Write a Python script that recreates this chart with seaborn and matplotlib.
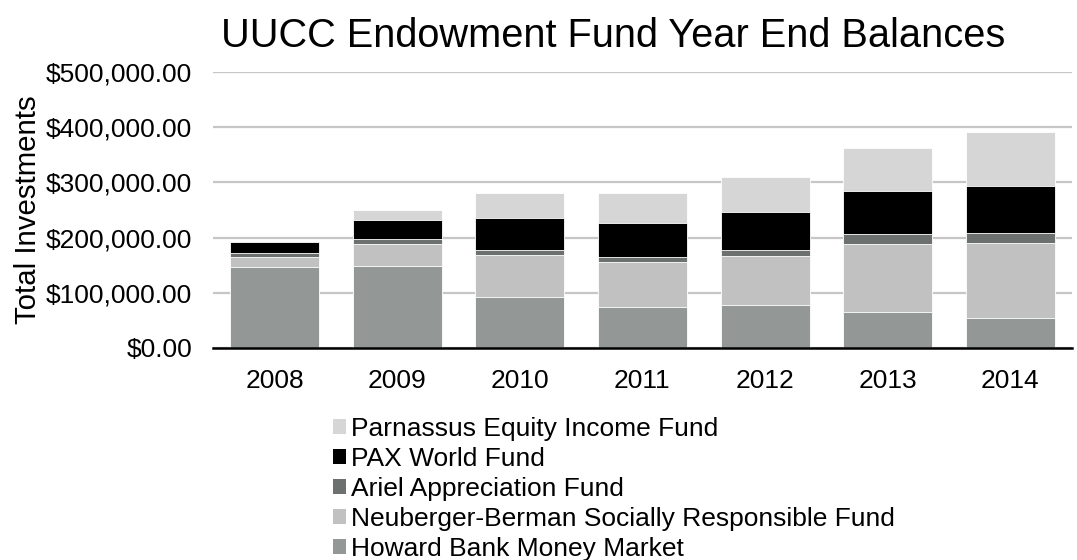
import matplotlib
matplotlib.use("Agg")
import matplotlib.pyplot as plt
import seaborn as sns
import pandas as pd
import numpy as np
from matplotlib.patches import Patch
from matplotlib.ticker import FuncFormatter

years = ["2008", "2009", "2010", "2011", "2012", "2013", "2014"]
howard = [145800, 147600, 91500, 74500, 78200, 65500, 54700]
neuberger = [19200, 41000, 76000, 81300, 89000, 122800, 135300]
ariel = [6800, 9000, 10300, 9000, 10200, 17500, 18700]
pax = [20200, 34400, 57800, 60800, 68100, 78200, 84800]
parnassus = [0, 18000, 45200, 56000, 64200, 78000, 97500]

funds = ["Howard Bank Money Market", "Neuberger-Berman Socially Responsible Fund",
         "Ariel Appreciation Fund", "PAX World Fund", "Parnassus Equity Income Fund"]
series = [howard, neuberger, ariel, pax, parnassus]
colors = {"Howard Bank Money Market": "#939896",
          "Neuberger-Berman Socially Responsible Fund": "#c1c1c1",
          "Ariel Appreciation Fund": "#6c706f",
          "PAX World Fund": "#000000",
          "Parnassus Equity Income Fund": "#d6d6d6"}

cum = np.cumsum(np.array(series, dtype=float), axis=0)
rows = []
for fi, f in enumerate(funds):
    for yi, y in enumerate(years):
        rows.append({"Year": y, "Fund": f, "cum": cum[fi, yi]})
df = pd.DataFrame(rows)

sns.set_theme(style="white")
plt.rcParams["font.family"] = ["Liberation Sans", "DejaVu Sans"]
plt.rcParams["text.color"] = "black"
plt.rcParams["axes.labelcolor"] = "black"

fig = plt.figure(figsize=(10.77, 5.6), dpi=100)
ax = fig.add_axes([0.198, 0.379, 0.797, 0.492])

hue_order = funds[::-1]
sns.barplot(data=df, x="Year", y="cum", hue="Fund", hue_order=hue_order,
            palette=colors, dodge=False, width=0.725, ax=ax,
            edgecolor="white", linewidth=0.6, legend=False, saturation=1)

ax.set_ylim(0, 500000)
ax.set_yticks([0, 100000, 200000, 300000, 400000, 500000])
ax.yaxis.set_major_formatter(FuncFormatter(lambda v, p: "${:,.2f}".format(v)))
ax.grid(axis="y", color="#c6c6c6", linewidth=1.6)
ax.set_axisbelow(True)
for s in ["top", "right", "left"]:
    ax.spines[s].set_visible(False)
ax.spines["bottom"].set_color("black")
ax.spines["bottom"].set_linewidth(1.8)
ax.tick_params(axis="y", length=0, pad=15, labelsize=19, colors="black")
ax.tick_params(axis="x", length=0, pad=15, labelsize=19, colors="black")
ax.set_xlabel("")
ax.set_ylabel("Total Investments", fontsize=21.2, color="black")
ax.yaxis.set_label_coords(-0.2, 0.5)

fig.text(0.569, 0.936, "UUCC Endowment Fund Year End Balances", ha="center",
         va="center", fontsize=28.6, color="black")

handles = [Patch(facecolor=colors[f], edgecolor="none") for f in hue_order]
leg = fig.legend(handles, hue_order, loc="upper left",
                 bbox_to_anchor=(0.3095, 0.256), frameon=False,
                 fontsize=19, handlelength=0.47, handleheight=0.47,
                 handletextpad=0.2, labelspacing=0.23, borderpad=0,
                 borderaxespad=0, labelcolor="black")

fig.savefig("out.png", dpi=100)
